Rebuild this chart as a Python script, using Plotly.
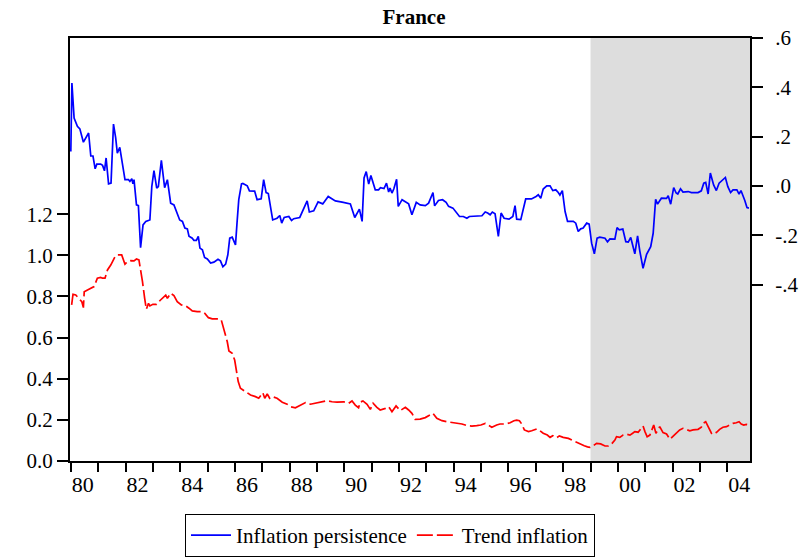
import plotly.graph_objects as go

# ---- data ----
persist_year = [1980.00,1980.04,1980.12,1980.24,1980.33,1980.46,1980.65,1980.73,1980.81,1980.89,
    1980.95,1981.09,1981.16,1981.23,1981.29,1981.38,1981.47,1981.56,1981.64,1981.70,
    1981.79,1981.86,1981.98,1982.11,1982.16,1982.23,1982.27,1982.31,1982.40,1982.47,
    1982.55,1982.64,1982.74,1982.86,1982.89,1982.96,1983.04,1983.14,1983.20,1983.31,
    1983.43,1983.53,1983.65,1983.77,1983.89,1983.98,1984.08,1984.17,1984.26,1984.32,
    1984.44,1984.50,1984.59,1984.66,1984.72,1984.81,1984.89,1984.99,1985.11,1985.23,
    1985.38,1985.47,1985.56,1985.66,1985.74,1985.81,1985.90,1986.02,1986.08,1986.14,
    1986.24,1986.29,1986.45,1986.53,1986.72,1986.81,1986.96,1987.05,1987.14,1987.22,
    1987.38,1987.54,1987.64,1987.71,1987.80,1987.97,1988.07,1988.15,1988.37,1988.51,
    1988.64,1988.72,1988.88,1989.04,1989.21,1989.41,1989.55,1989.67,1989.92,1990.04,
    1990.22,1990.38,1990.55,1990.65,1990.72,1990.80,1990.89,1990.97,1991.13,1991.25,
    1991.32,1991.45,1991.54,1991.62,1991.67,1991.74,1991.81,1991.91,1991.97,1992.11,
    1992.20,1992.35,1992.47,1992.55,1992.63,1992.77,1992.96,1993.08,1993.24,1993.30,
    1993.44,1993.59,1993.72,1993.81,1993.97,1994.21,1994.35,1994.48,1994.57,1995.03,
    1995.15,1995.24,1995.33,1995.41,1995.51,1995.63,1995.73,1995.84,1996.02,1996.16,
    1996.24,1996.30,1996.45,1996.63,1996.84,1997.01,1997.09,1997.18,1997.27,1997.40,
    1997.52,1997.62,1997.73,1997.82,1997.88,1997.97,1998.07,1998.16,1998.37,1998.46,
    1998.55,1998.64,1998.73,1998.86,1998.95,1999.04,1999.14,1999.24,1999.34,1999.53,
    1999.62,1999.71,1999.89,1999.97,2000.05,2000.18,2000.29,2000.38,2000.47,2000.62,
    2000.72,2000.80,2000.92,2001.05,2001.20,2001.29,2001.38,2001.45,2001.59,2001.78,
    2001.84,2001.93,2002.04,2002.13,2002.19,2002.29,2002.38,2002.57,2002.69,2002.93,
    2003.05,2003.14,2003.21,2003.30,2003.38,2003.50,2003.60,2003.70,2003.81,2003.93,
    2004.02,2004.12,2004.21,2004.35,2004.43,2004.50,2004.64,2004.72,2004.79]

persist_value = [0.140,0.418,0.276,0.242,0.232,0.178,0.215,0.122,0.122,0.070,
    0.089,0.089,0.084,0.062,0.114,0.009,0.012,0.251,0.195,0.134,
    0.157,0.114,0.026,0.026,0.019,0.030,0.009,0.026,-0.076,-0.079,
    -0.249,-0.157,-0.143,-0.138,-0.137,-0.002,0.063,-0.008,-0.002,0.104,
    -0.006,0.026,-0.069,-0.076,-0.116,-0.137,-0.143,-0.170,-0.173,-0.203,
    -0.211,-0.220,-0.220,-0.204,-0.251,-0.258,-0.289,-0.295,-0.312,-0.308,
    -0.296,-0.303,-0.327,-0.316,-0.278,-0.211,-0.207,-0.238,-0.143,-0.055,
    0.009,0.011,0.001,-0.019,-0.020,-0.055,-0.051,0.026,-0.026,-0.030,
    -0.137,-0.130,-0.119,-0.150,-0.127,-0.123,-0.139,-0.132,-0.127,-0.089,
    -0.060,-0.105,-0.100,-0.064,-0.072,-0.042,-0.053,-0.060,-0.065,-0.069,
    -0.072,-0.127,-0.093,-0.143,0.033,0.059,0.008,0.043,-0.015,-0.015,
    -0.006,-0.010,0.012,-0.024,-0.008,-0.028,-0.011,0.028,-0.082,-0.055,
    -0.062,-0.072,-0.116,-0.090,-0.066,-0.076,-0.079,-0.069,-0.026,-0.080,
    -0.058,-0.055,-0.066,-0.082,-0.089,-0.123,-0.123,-0.130,-0.123,-0.120,
    -0.105,-0.109,-0.116,-0.105,-0.112,-0.204,-0.109,-0.130,-0.134,-0.123,
    -0.079,-0.134,-0.136,-0.052,-0.052,-0.042,-0.035,-0.049,-0.012,0.001,
    0.001,-0.018,-0.015,-0.026,-0.036,-0.018,-0.103,-0.143,-0.143,-0.150,
    -0.184,-0.173,-0.170,-0.150,-0.154,-0.231,-0.274,-0.211,-0.207,-0.211,
    -0.226,-0.214,-0.215,-0.168,-0.177,-0.174,-0.225,-0.227,-0.208,-0.274,
    -0.202,-0.262,-0.333,-0.276,-0.245,-0.191,-0.053,-0.073,-0.049,-0.050,
    -0.039,-0.073,-0.006,-0.028,-0.032,-0.011,-0.024,-0.022,-0.026,-0.026,
    -0.019,0.012,0.015,-0.032,0.053,0.005,-0.018,0.012,0.022,0.035,
    -0.002,-0.026,-0.015,-0.015,-0.032,-0.018,-0.058,-0.087,-0.089]

trend_year = [1980.03,1980.08,1980.18,1980.30,1980.40,1980.46,1980.49,1980.61,1980.76,1980.85,
    1980.97,1981.09,1981.16,1981.25,1981.34,1981.46,1981.62,1981.70,1981.86,1981.91,
    1981.98,1982.07,1982.19,1982.31,1982.40,1982.49,1982.53,1982.62,1982.70,1982.76,
    1982.84,1982.89,1983.00,1983.13,1983.28,1983.38,1983.47,1983.53,1983.65,1983.77,
    1983.89,1984.04,1984.20,1984.32,1984.44,1984.62,1984.81,1984.90,1985.03,1985.17,
    1985.39,1985.50,1985.59,1985.72,1985.78,1985.90,1985.99,1986.05,1986.12,1986.20,
    1986.39,1986.57,1986.75,1986.87,1986.96,1987.02,1987.09,1987.18,1987.27,1987.36,
    1987.54,1987.73,1987.91,1988.03,1988.21,1988.39,1988.58,1988.76,1988.94,1989.12,
    1989.37,1989.55,1989.73,1989.97,1990.16,1990.28,1990.40,1990.52,1990.58,1990.68,
    1990.83,1990.95,1991.05,1991.19,1991.31,1991.50,1991.62,1991.74,1991.89,1992.04,
    1992.23,1992.35,1992.47,1992.59,1992.77,1992.96,1993.11,1993.24,1993.38,1993.57,
    1993.75,1993.93,1994.11,1994.30,1994.48,1994.66,1994.84,1994.99,1995.15,1995.27,
    1995.39,1995.57,1995.69,1995.88,1996.06,1996.20,1996.30,1996.40,1996.49,1996.58,
    1996.73,1996.85,1997.03,1997.15,1997.27,1997.42,1997.52,1997.62,1997.76,1997.86,
    1998.00,1998.19,1998.31,1998.47,1998.61,1998.77,1998.89,1998.98,1999.10,1999.22,
    1999.37,1999.53,1999.65,1999.77,1999.89,1999.95,2000.07,2000.19,2000.32,2000.44,
    2000.54,2000.62,2000.74,2000.84,2000.92,2000.99,2001.07,2001.17,2001.25,2001.31,
    2001.39,2001.45,2001.53,2001.65,2001.78,2001.90,2002.02,2002.14,2002.26,2002.38,
    2002.51,2002.63,2002.75,2002.93,2003.05,2003.11,2003.21,2003.30,2003.36,2003.42,
    2003.50,2003.60,2003.72,2003.84,2003.97,2004.09,2004.21,2004.33,2004.43,2004.51,
    2004.60,2004.70,2004.79]

trend_value = [0.759,0.811,0.807,0.791,0.775,0.746,0.823,0.832,0.840,0.848,
    0.889,0.893,0.889,0.889,0.929,0.953,0.994,1.002,1.002,0.986,
    0.957,0.969,0.974,0.973,0.982,0.978,0.937,0.872,0.791,0.738,
    0.767,0.754,0.762,0.762,0.783,0.794,0.807,0.791,0.816,0.804,
    0.775,0.759,0.754,0.743,0.730,0.726,0.726,0.718,0.697,0.691,
    0.691,0.686,0.645,0.580,0.535,0.524,0.491,0.434,0.386,0.354,
    0.337,0.321,0.313,0.305,0.321,0.332,0.305,0.326,0.305,0.313,
    0.305,0.286,0.276,0.264,0.259,0.272,0.284,0.276,0.281,0.286,
    0.293,0.288,0.286,0.288,0.281,0.292,0.272,0.259,0.286,0.292,
    0.276,0.251,0.281,0.261,0.248,0.256,0.264,0.240,0.268,0.245,
    0.261,0.248,0.232,0.203,0.204,0.211,0.224,0.232,0.208,0.196,
    0.191,0.188,0.186,0.180,0.172,0.170,0.172,0.175,0.183,0.175,
    0.164,0.175,0.180,0.180,0.186,0.196,0.199,0.196,0.179,0.151,
    0.143,0.147,0.156,0.147,0.135,0.126,0.115,0.123,0.113,0.122,
    0.115,0.110,0.102,0.094,0.086,0.074,0.069,0.066,0.074,0.086,
    0.083,0.073,0.073,0.083,0.102,0.118,0.115,0.126,0.130,0.126,
    0.135,0.143,0.140,0.159,0.170,0.143,0.118,0.126,0.151,0.175,
    0.135,0.147,0.167,0.138,0.131,0.106,0.122,0.138,0.151,0.159,
    0.154,0.147,0.151,0.154,0.164,0.183,0.191,0.167,0.143,0.135,
    0.143,0.138,0.154,0.164,0.167,0.175,0.183,0.186,0.191,0.180,
    0.175,0.178,0.175]

assert len(persist_year) == len(persist_value)
assert len(trend_year) == len(trend_value)

x_tick_years = list(range(1980, 2005))
x_tick_text = [("%02d" % (y % 100)) if y % 2 == 0 else "" for y in x_tick_years]
left_ticks = [0.0, 0.2, 0.4, 0.6, 0.8, 1.0, 1.2]
left_tick_text = ["0.0", "0.2", "0.4", "0.6", "0.8", "1.0", "1.2"]
right_ticks = [-0.4, -0.2, 0.0, 0.2, 0.4, 0.6]
right_tick_text = ["-.4", "-.2", ".0", ".2", ".4", ".6"]
shade_start = 1999.0

FONT = "Liberation Serif"

fig = go.Figure()
fig.add_trace(go.Scatter(
    x=persist_year, y=persist_value, mode="lines", name="Inflation persistence",
    line=dict(color="rgb(0,0,255)", width=1.7), yaxis="y2"))
fig.add_trace(go.Scatter(
    x=trend_year, y=trend_value, mode="lines", name="Trend inflation",
    line=dict(color="rgb(255,0,0)", width=1.7, dash="16px,4px"), yaxis="y"))

fig.add_shape(type="rect", xref="x", yref="paper", x0=shade_start, x1=2004.83,
              y0=0, y1=1, fillcolor="#DDDDDD", line=dict(width=0), layer="below")

fig.update_layout(
    width=804, height=559,
    margin=dict(l=70, r=54, t=38, b=98, autoexpand=False),
    paper_bgcolor="white", plot_bgcolor="white",
    font=dict(family=FONT, size=18, color="black"),
    title=dict(text="<b>France</b>", x=414 / 804, xanchor="center",
               y=1 - 17 / 559, yanchor="middle", font=dict(family=FONT, size=21)),
    xaxis=dict(range=[1979.97, 2004.83], tickmode="array", tickvals=x_tick_years,
               ticktext=x_tick_text, ticks="outside", ticklen=9, tickwidth=1.5,
               tickcolor="black", ticklabelshift=12, ticklabelstandoff=-6,
               showgrid=False, zeroline=False,
               showline=True, linewidth=2, linecolor="black", mirror=True,
               automargin=False, tickfont=dict(family=FONT, size=22)),
    yaxis=dict(range=[0, 2.057], tickmode="array", tickvals=left_ticks,
               ticktext=left_tick_text, ticks="outside", ticklen=11, tickwidth=1.5,
               tickcolor="black", showgrid=False, zeroline=False, showline=True,
               automargin=False, linewidth=2, linecolor="black",
               tickfont=dict(family=FONT, size=21)),
    yaxis2=dict(range=[-1.1135, 0.6], overlaying="y", side="right", tickmode="array",
                tickvals=right_ticks, ticktext=right_tick_text, ticks="outside",
                ticklen=11, tickwidth=1.5, tickcolor="black", showgrid=False,
                ticklabelstandoff=8,
                automargin=False, zeroline=False, showline=True, linewidth=2,
                linecolor="black", tickfont=dict(family=FONT, size=21)),
    legend=dict(orientation="h", x=(390 - 70) / 680, xanchor="center",
                y=(461 - 557) / 423, yanchor="bottom", bordercolor="black", borderwidth=1,
                bgcolor="white", font=dict(family=FONT, size=21),
                itemwidth=40, tracegroupgap=0),
    showlegend=True,
)

fig.write_html("out.html", config={"displayModeBar": False},
               post_script="document.body.style.margin='0';document.body.style.padding='0';")
